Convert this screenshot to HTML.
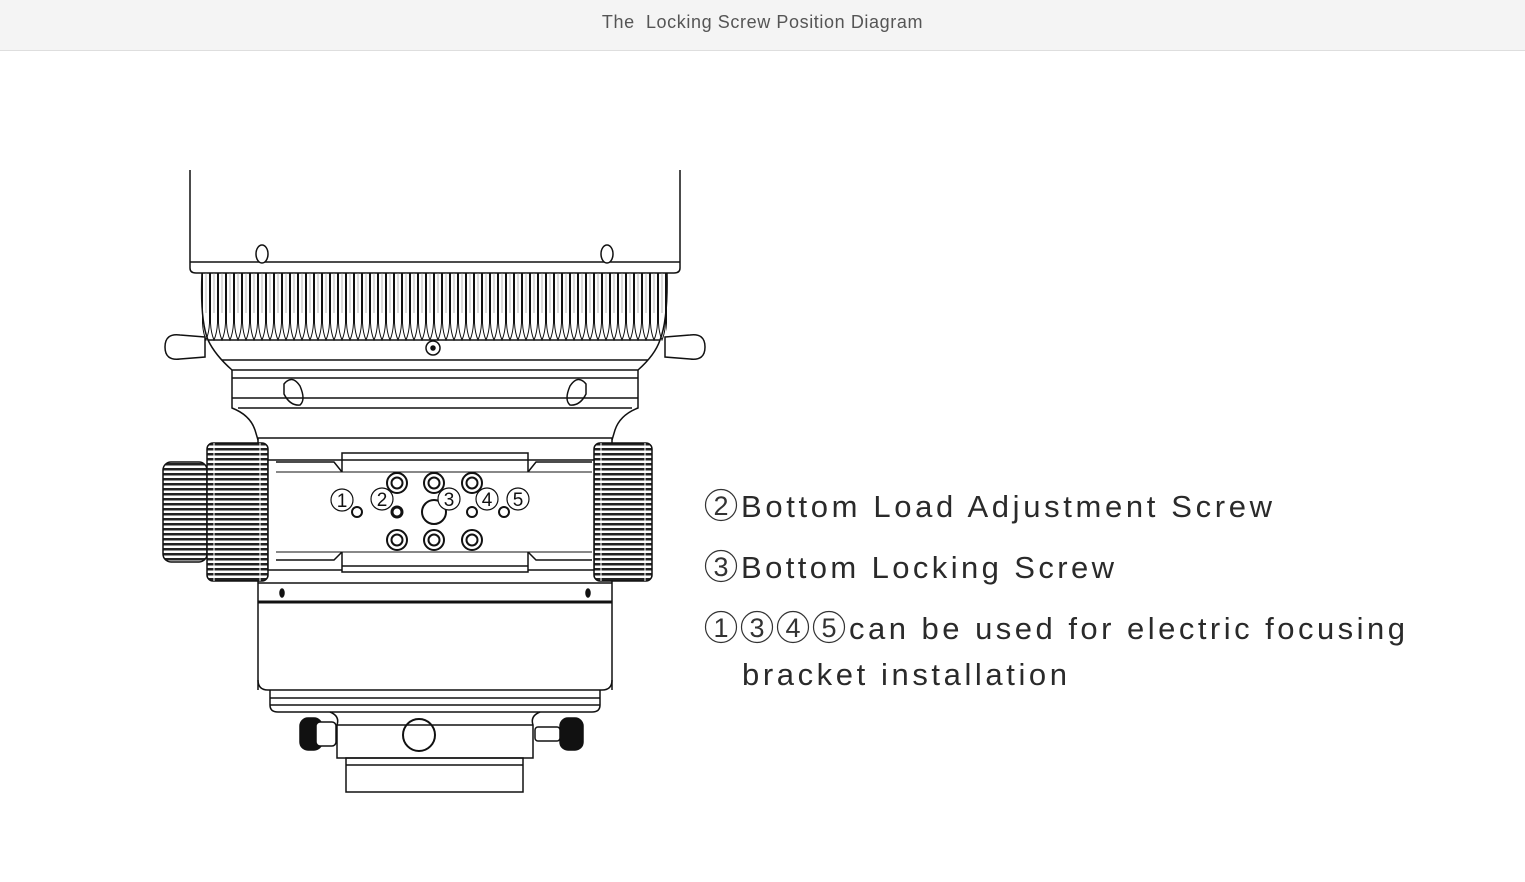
<!DOCTYPE html>
<html><head><meta charset="utf-8"><style>
html,body{margin:0;padding:0;background:#fff;width:1525px;height:882px;overflow:hidden;font-family:"Liberation Sans","DejaVu Sans",sans-serif}
.hdr{position:absolute;left:0;top:0;width:1525px;height:50px;background:#f4f4f4;border-bottom:1px solid #dedede;text-align:center;line-height:44px;font-size:18px;color:#555;letter-spacing:0.6px}
svg{position:absolute;left:0;top:0}
</style></head><body>
<div class="hdr">The&nbsp; Locking Screw Position Diagram</div>
<svg width="1525" height="882" viewBox="0 0 1525 882">
<defs>
<pattern id="teeth" x="202" y="273" width="8" height="68" patternUnits="userSpaceOnUse">
<path d="M0.5,0 L0.5,50 Q1,60 4,67 Q7,60 7.5,50 L7.5,0" fill="none" stroke="#111" stroke-width="1"/>
<line x1="4" y1="0" x2="4" y2="40" stroke="#888" stroke-width="0.6"/>
</pattern>
<pattern id="knurl" x="0" y="443" width="10" height="5" patternUnits="userSpaceOnUse">
<rect width="10" height="5" fill="#fff"/>
<rect width="10" height="2.5" fill="#222"/>
</pattern>
</defs>
<g fill="none" stroke="#111" stroke-width="1.5">
<path d="M190,170 L190,268 Q190,273 196,273 L674,273 Q680,273 680,268 L680,170"/>
<line x1="190" y1="262" x2="680" y2="262"/>
<ellipse cx="262" cy="254" rx="6" ry="9" fill="#fff"/>
<ellipse cx="607" cy="254" rx="6" ry="9" fill="#fff"/>
<rect x="202" y="273" width="465" height="68" fill="url(#teeth)" stroke="none"/>
<path d="M202,273 Q200,320 208,340 L660,340 Q668,320 667,273"/>
<path d="M205,337 L180,335 Q165,333 165,347 Q165,361 180,359 L205,357 Z" fill="#fff"/>
<path d="M665,337 L690,335 Q705,333 705,347 Q705,361 690,359 L665,357 Z" fill="#fff"/>
<circle cx="433" cy="348" r="7"/><circle cx="433" cy="348" r="2" fill="#111"/>
<path d="M208,340 Q215,355 232,370 L638,370 Q655,355 660,340"/>
<line x1="222" y1="360" x2="648" y2="360"/>
<line x1="232" y1="378" x2="638" y2="378"/>
<line x1="232" y1="398" x2="638" y2="398"/>
<path d="M232,370 L232,408 Q250,415 255,430 L258,440 M638,370 L638,408 Q620,415 615,430 L612,440"/>
<line x1="238" y1="408" x2="632" y2="408"/>
<line x1="258" y1="438" x2="612" y2="438"/>
<path d="M284,384 Q292,374 300,386 Q306,400 300,405 Q290,406 284,394 Z"/>
<path d="M586,384 Q578,374 570,386 Q564,400 570,405 Q580,406 586,394 Z"/>
<line x1="258" y1="438" x2="258" y2="690"/>
<line x1="612" y1="438" x2="612" y2="690"/>
<rect x="163" y="462" width="44" height="100" rx="8" fill="url(#knurl)"/>
<rect x="207" y="443" width="61" height="138" rx="6" fill="url(#knurl)"/>
<line x1="214" y1="443" x2="214" y2="581" stroke="#fff" stroke-width="1"/>
<line x1="260" y1="443" x2="260" y2="581" stroke="#fff" stroke-width="1"/>
<rect x="594" y="443" width="58" height="138" rx="6" fill="url(#knurl)"/>
<line x1="601" y1="443" x2="601" y2="581" stroke="#fff" stroke-width="1"/>
<line x1="645" y1="443" x2="645" y2="581" stroke="#fff" stroke-width="1"/>
<rect x="268" y="460" width="326" height="110" fill="#fff"/>
<path d="M276,462 L334,462 L342,472 M276,560 L334,560 L342,552 M592,462 L536,462 L528,472 M592,560 L536,560 L528,552"/>
<path d="M342,472 L342,453 L528,453 L528,472 M342,552 L342,572 L528,572 L528,552" fill="#fff"/>
<line x1="342" y1="460" x2="528" y2="460"/>
<line x1="342" y1="566" x2="528" y2="566"/>
<line x1="276" y1="472" x2="592" y2="472" stroke-width="1"/>
<line x1="276" y1="552" x2="592" y2="552" stroke-width="1"/>
<line x1="258" y1="583" x2="612" y2="583"/>
<g stroke-width="2">
<circle cx="397" cy="483" r="10"/><circle cx="397" cy="483" r="5.5"/>
<circle cx="434" cy="483" r="10"/><circle cx="434" cy="483" r="5.5"/>
<circle cx="472" cy="483" r="10"/><circle cx="472" cy="483" r="5.5"/>
<circle cx="397" cy="540" r="10"/><circle cx="397" cy="540" r="5.5"/>
<circle cx="434" cy="540" r="10"/><circle cx="434" cy="540" r="5.5"/>
<circle cx="472" cy="540" r="10"/><circle cx="472" cy="540" r="5.5"/>
<circle cx="434" cy="512" r="12"/>
<circle cx="357" cy="512" r="5"/><circle cx="397" cy="512" r="5" stroke-width="3"/>
<circle cx="472" cy="512" r="5"/><circle cx="504" cy="512" r="5"/>
</g>
<g stroke-width="1.2" fill="#fff">
<circle cx="342" cy="500" r="11"/><circle cx="382" cy="499" r="11"/>
<circle cx="449" cy="499" r="11"/><circle cx="487" cy="499" r="11"/><circle cx="518" cy="499" r="11"/>
</g>
<ellipse cx="282" cy="593" rx="2" ry="4" fill="#111"/>
<ellipse cx="588" cy="593" rx="2" ry="4" fill="#111"/>
<line x1="258" y1="602" x2="612" y2="602" stroke-width="3"/>
<path d="M258,680 Q258,690 268,690 L602,690 Q612,690 612,680"/>
<path d="M270,690 L270,705 Q270,712 278,712 L592,712 Q600,712 600,705 L600,690"/>
<line x1="270" y1="698" x2="600" y2="698"/>
<line x1="270" y1="705" x2="600" y2="705"/>
<path d="M330,712 Q340,716 337,725 L337,758 L533,758 L533,725 Q530,716 540,712"/>
<line x1="337" y1="725" x2="533" y2="725"/>
<rect x="300" y="718" width="22" height="32" rx="8" fill="#111"/>
<rect x="316" y="722" width="20" height="24" rx="4" fill="#fff"/>
<rect x="560" y="718" width="23" height="32" rx="8" fill="#111"/>
<rect x="535" y="727" width="25" height="14" rx="3" fill="#fff"/>
<circle cx="419" cy="735" r="16" stroke-width="2"/>
<rect x="346" y="758" width="177" height="34"/>
<line x1="346" y1="765" x2="523" y2="765"/>
</g>
<g font-family="Liberation Sans,DejaVu Sans,sans-serif" font-size="19" fill="#111" text-anchor="middle">
<text x="342" y="507">1</text><text x="382" y="506">2</text><text x="449" y="506">3</text><text x="487" y="506">4</text><text x="518" y="506">5</text>
</g>
<!-- circled numbers on right -->
<g fill="none" stroke="#333" stroke-width="1.2">
<circle cx="721" cy="505" r="15.5"/>
<circle cx="721" cy="566" r="15.5"/>
<circle cx="721" cy="627" r="15.5"/><circle cx="757" cy="627" r="15.5"/><circle cx="793" cy="627" r="15.5"/><circle cx="829" cy="627" r="15.5"/>
</g>
<g font-family="Liberation Sans,DejaVu Sans,sans-serif" font-size="27" fill="#333" text-anchor="middle">
<text x="721" y="515">2</text>
<text x="721" y="576">3</text>
<text x="721" y="637">1</text><text x="757" y="637">3</text><text x="793" y="637">4</text><text x="829" y="637">5</text>
</g>
<g font-family="Liberation Sans,DejaVu Sans,sans-serif" font-size="31" fill="#2a2a2a">
<text x="741" y="517" textLength="531" lengthAdjust="spacing">Bottom Load Adjustment Screw</text>
<text x="741" y="578" textLength="373" lengthAdjust="spacing">Bottom Locking Screw</text>
<text x="849" y="639" textLength="556" lengthAdjust="spacing">can be used for electric focusing</text>
<text x="742" y="685" textLength="325" lengthAdjust="spacing">bracket installation</text>
</g>
</svg>
</body></html>
